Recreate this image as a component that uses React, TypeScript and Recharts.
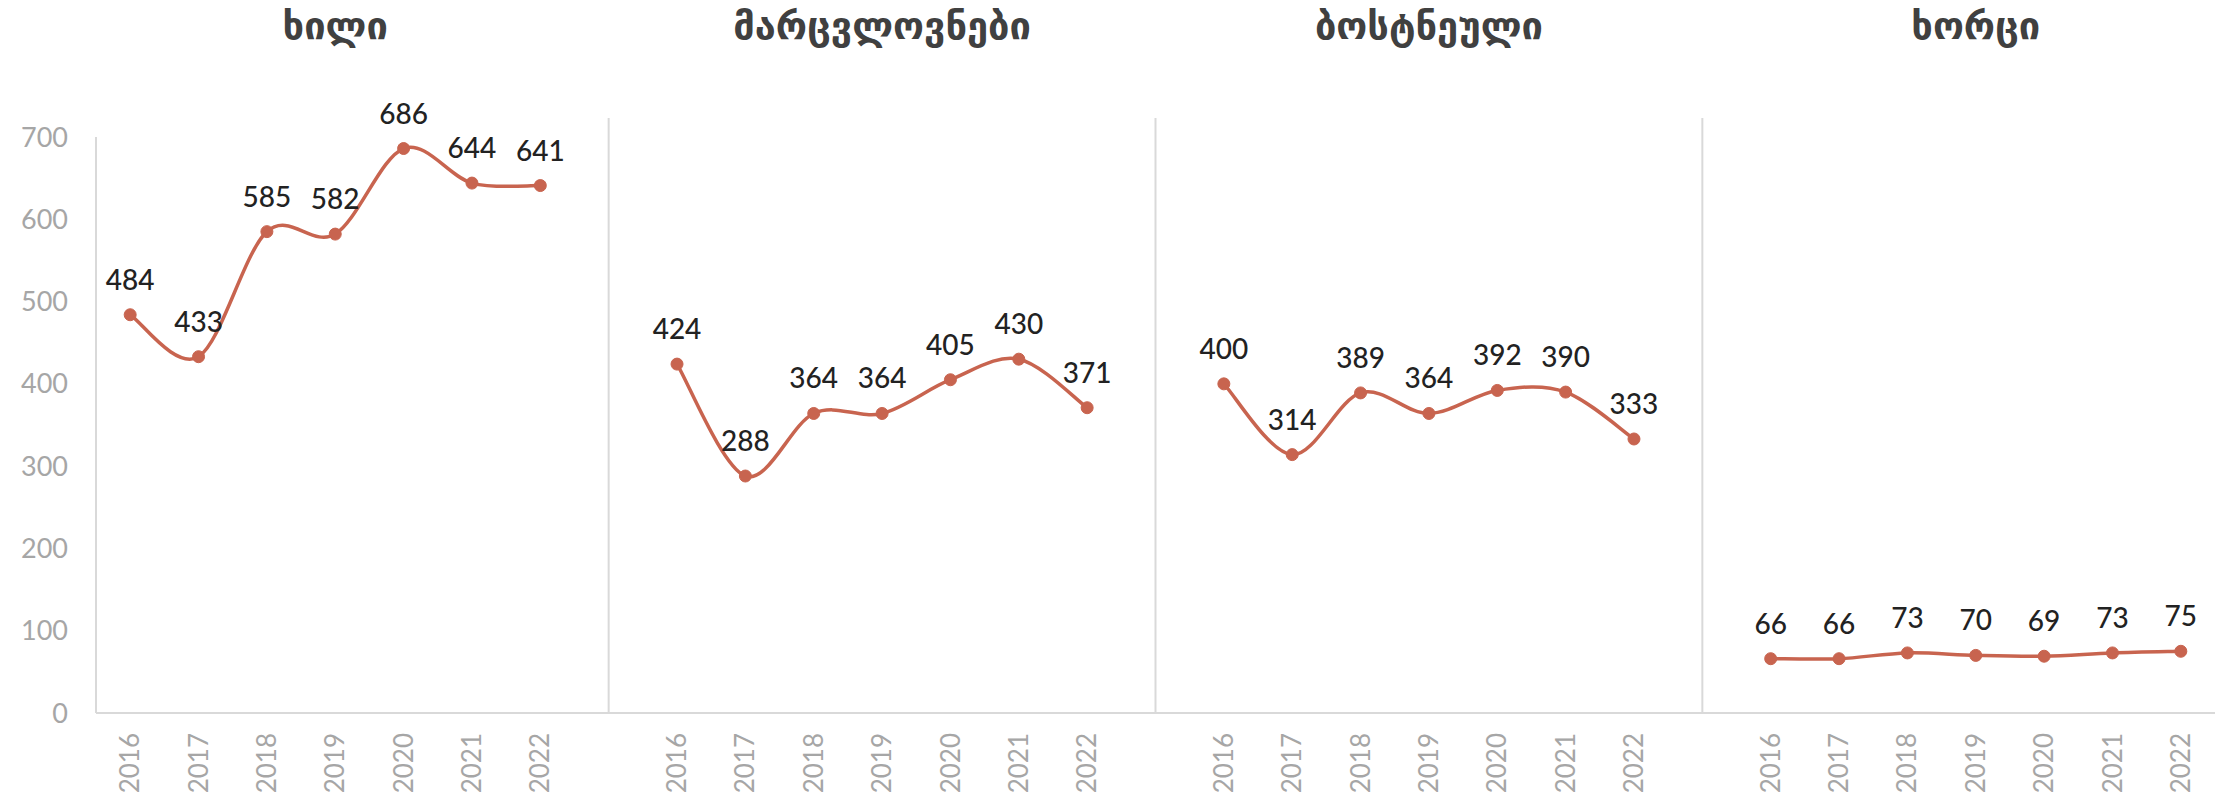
import { LineChart, Line, XAxis, YAxis, ReferenceLine, LabelList } from "recharts";

const YEARS = ["2016", "2017", "2018", "2019", "2020", "2021", "2022"];
const GROUP_TITLES = ["ხილი", "მარცვლოვნები", "ბოსტნეული", "ხორცი"];
const FRUIT = [484, 433, 585, 582, 686, 644, 641];
const GRAINS = [424, 288, 364, 364, 405, 430, 371];
const VEGETABLES = [400, 314, 389, 364, 392, 390, 333];
const MEAT = [66, 66, 73, 70, 69, 73, 75];
const Y_TICKS = [0, 100, 200, 300, 400, 500, 600, 700];

const LINE_COLOR = "#C8644F";
const AXIS_COLOR = "#d9d9d9";
const TICK_COLOR = "#a6a6a6";

const SERIES = [
  { key: "fruit", values: FRUIT },
  { key: "grains", values: GRAINS },
  { key: "vegetables", values: VEGETABLES },
  { key: "meat", values: MEAT },
];

type Row = { key: string; year: string; [k: string]: string | number | undefined };

// one row per year per group, with an empty category between groups
const rows: Row[] = [];
const titleByKey: Record<string, string> = {};
SERIES.forEach((s, g) => {
  YEARS.forEach((year, i) => {
    const key = `${g}-${year}`;
    rows.push({ key, year, [s.key]: s.values[i] });
    if (i === 3) titleByKey[key] = GROUP_TITLES[g];
  });
  if (g < SERIES.length - 1) rows.push({ key: `gap${g}`, year: "" });
});
const yearByKey: Record<string, string> = Object.fromEntries(rows.map((r) => [r.key, r.year]));
const GAP_KEYS = rows.filter((r) => r.year === "").map((r) => r.key);

// Catmull-Rom style smoothing, close to Excel's "smoothed line"
function smoothCurve(context: any) {
  let pts: [number, number][] = [];
  return {
    areaStart() {},
    areaEnd() {},
    lineStart() {
      pts = [];
    },
    lineEnd() {
      const n = pts.length;
      if (!n) return;
      context.moveTo(pts[0][0], pts[0][1]);
      for (let i = 0; i < n - 1; i++) {
        const p0 = pts[Math.max(i - 1, 0)];
        const p1 = pts[i];
        const p2 = pts[i + 1];
        const p3 = pts[Math.min(i + 2, n - 1)];
        context.bezierCurveTo(
          p1[0] + (p2[0] - p0[0]) / 6,
          p1[1] + (p2[1] - p0[1]) / 6,
          p2[0] - (p3[0] - p1[0]) / 6,
          p2[1] - (p3[1] - p1[1]) / 6,
          p2[0],
          p2[1]
        );
      }
    },
    point(x: number, y: number) {
      pts.push([+x, +y]);
    },
  };
}

function YearTick({ x, y, payload }: any) {
  return (
    <text
      x={x}
      y={y}
      transform={`rotate(-90 ${x} ${y})`}
      textAnchor="end"
      dy="0.35em"
      fill={TICK_COLOR}
      fontSize={26}
      fontFamily="Lato"
    >
      {yearByKey[payload.value] ?? ""}
    </text>
  );
}

function TitleTick({ x, y, payload }: any) {
  const title = titleByKey[payload.value];
  if (!title) return null;
  return (
    <text x={x} y={y} textAnchor="middle" fill="#404040" fontSize={38} fontWeight="bold" fontFamily="DejaVu Sans">
      {title}
    </text>
  );
}

export default function App() {
  return (
    <div style={{ position: "absolute", left: 0, top: 0, width: 2215, height: 800, background: "#fff" }}>
      <LineChart width={2215} height={800} data={rows} margin={{ top: 0, right: 0, bottom: 0, left: 0 }}>
        <XAxis
          xAxisId="titles"
          orientation="top"
          dataKey="key"
          scale="band"
          height={137}
          interval={0}
          axisLine={false}
          tickLine={false}
          tickSize={0}
          tickMargin={98}
          tick={<TitleTick />}
        />
        <XAxis
          dataKey="key"
          scale="band"
          height={87}
          interval={0}
          tickLine={false}
          tickSize={0}
          tickMargin={20}
          axisLine={{ stroke: AXIS_COLOR, strokeWidth: 2 }}
          tick={<YearTick />}
        />
        <YAxis
          width={96}
          domain={[0, 700]}
          ticks={Y_TICKS}
          interval={0}
          tickLine={false}
          tickSize={0}
          tickMargin={28}
          axisLine={{ stroke: AXIS_COLOR, strokeWidth: 2 }}
          tick={{ fill: TICK_COLOR, fontSize: 27, fontFamily: "Lato" }}
        />
        {GAP_KEYS.map((k) => (
          <ReferenceLine
            key={k}
            segment={[
              { x: k, y: 0 },
              { x: k, y: 723 },
            ]}
            ifOverflow="visible"
            stroke={AXIS_COLOR}
            strokeWidth={2}
          />
        ))}
        {SERIES.map((s) => (
          <Line
            key={s.key}
            dataKey={s.key}
            type={smoothCurve as any}
            stroke={LINE_COLOR}
            strokeWidth={3.5}
            dot={{ r: 6, fill: LINE_COLOR, stroke: LINE_COLOR, strokeWidth: 1 }}
            activeDot={false}
            connectNulls={false}
            isAnimationActive={false}
          >
            <LabelList
              dataKey={s.key}
              position="top"
              offset={25}
              fill="#222222"
              fontSize={28}
              fontWeight={500}
              fontFamily="Lato"
            />
          </Line>
        ))}
      </LineChart>
    </div>
  );
}
